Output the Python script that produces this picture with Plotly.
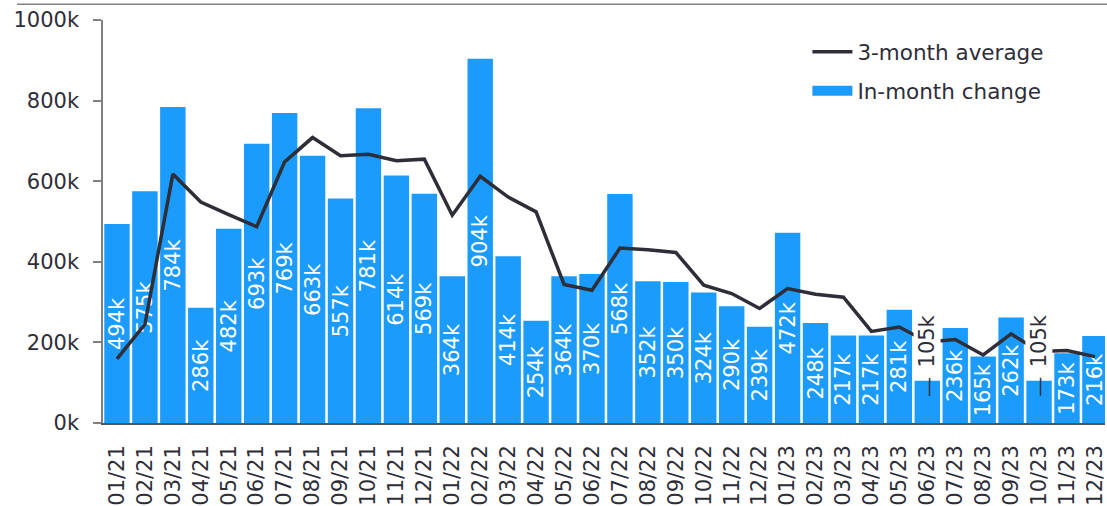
import plotly.graph_objects as go

months = ["01/21","02/21","03/21","04/21","05/21","06/21","07/21","08/21","09/21","10/21","11/21","12/21",
          "01/22","02/22","03/22","04/22","05/22","06/22","07/22","08/22","09/22","10/22","11/22","12/22",
          "01/23","02/23","03/23","04/23","05/23","06/23","07/23","08/23","09/23","10/23","11/23","12/23"]
# in-month change, thousands
in_month = [494, 575, 784, 286, 482, 693, 769, 663, 557, 781, 614, 569,
            364, 904, 414, 254, 364, 370, 568, 352, 350, 324, 290, 239,
            472, 248, 217, 217, 281, 105, 236, 165, 262, 105, 173, 216]
# 3-month average, thousands
avg3 = [159, 245, 617.7, 548.3, 517.3, 487, 648, 708.3, 663, 667, 650.7, 654.7,
        515.7, 612.3, 560.7, 524, 344, 329.3, 434, 430, 423.3, 342, 321.3, 284.3,
        333.7, 319.7, 312.3, 227.3, 238.3, 201, 207.3, 168.7, 221, 177.3, 180, 164.7]
y_ticks = [0, 200, 400, 600, 800, 1000]
outside_label_months = ["06/23", "10/23"]

BLUE = "#1B9BFB"
DARK = "#2E2E38"
GREY = "#808080"
FONT = "DejaVu Sans"

bar_text = ["" if m in outside_label_months else f"{v}k" for m, v in zip(months, in_month)]

fig = go.Figure()
fig.add_trace(go.Bar(
    x=months, y=[v * 1000 for v in in_month], name="In-month change",
    marker=dict(color=BLUE, line=dict(width=0)),
    text=bar_text, textposition="inside", insidetextanchor="middle",
    textangle=-90, textfont=dict(color="white", size=21, family=FONT),
    showlegend=False, hoverinfo="skip",
))
fig.add_trace(go.Scatter(
    x=months, y=[v * 1000 for v in avg3], name="3-month average",
    mode="lines", line=dict(color=DARK, width=3.5),
    legendrank=1, legendgroup="a", hoverinfo="skip",
))
# legend swatch for the bars (rectangular key like the reference)
fig.add_trace(go.Scatter(
    x=[None], y=[None], name="In-month change", mode="lines",
    line=dict(color=BLUE, width=21), legendrank=2, legendgroup="b",
    hoverinfo="skip",
))

for m in outside_label_months:
    v = in_month[months.index(m)]
    fig.add_annotation(x=m, y=v * 1000, xref="x", yref="y", text=f"{v}k",
                       textangle=-90, showarrow=False, yanchor="bottom", yshift=12,
                       font=dict(color=DARK, size=21, family=FONT),
                       bgcolor="white", height=26, borderpad=0)
    fig.add_annotation(x=m, y=v * 1000, xref="x", yref="y", text="—",
                       textangle=-90, showarrow=False, yanchor="middle", yshift=-6,
                       font=dict(color=DARK, size=20, family=FONT))

# top rule
fig.add_shape(type="line", xref="paper", yref="paper", x0=-0.0857, x1=1.01, y0=1.039, y1=1.039,
              line=dict(color=GREY, width=1.5))

fig.update_layout(
    width=1107, height=506,
    margin=dict(l=103, r=0, t=20, b=80),
    paper_bgcolor="white", plot_bgcolor="white",
    bargap=0.09,
    font=dict(family=FONT, size=21, color=DARK),
    uniformtext=dict(mode="show", minsize=21),
    showlegend=True,
    legend=dict(x=0.703, y=0.972, xanchor="left", yanchor="top",
                font=dict(size=21.5, color=DARK, family=FONT),
                bgcolor="rgba(0,0,0,0)", tracegroupgap=8, itemwidth=40,
                traceorder="grouped"),
)
fig.update_xaxes(type="category", range=[-0.5, 35.36], showgrid=False,
                 showline=True, linecolor="#555555", linewidth=1.5,
                 ticks="", tickangle=-90, ticklabelstandoff=12,
                 tickfont=dict(size=21, color=DARK, family=FONT))
fig.update_yaxes(range=[0, 1000000], tickvals=[t * 1000 for t in y_ticks],
                 ticktext=[f"{t}k" for t in y_ticks], showgrid=False, zeroline=False,
                 showline=True, linecolor=GREY, linewidth=1.5,
                 ticks="outside", ticklen=8, tickcolor=GREY, tickwidth=1.5,
                 ticklabelstandoff=10,
                 tickfont=dict(size=21, color=DARK, family=FONT))

fig.write_html("out.html", config={"displayModeBar": False},
               post_script="document.body.style.margin='0px';")
